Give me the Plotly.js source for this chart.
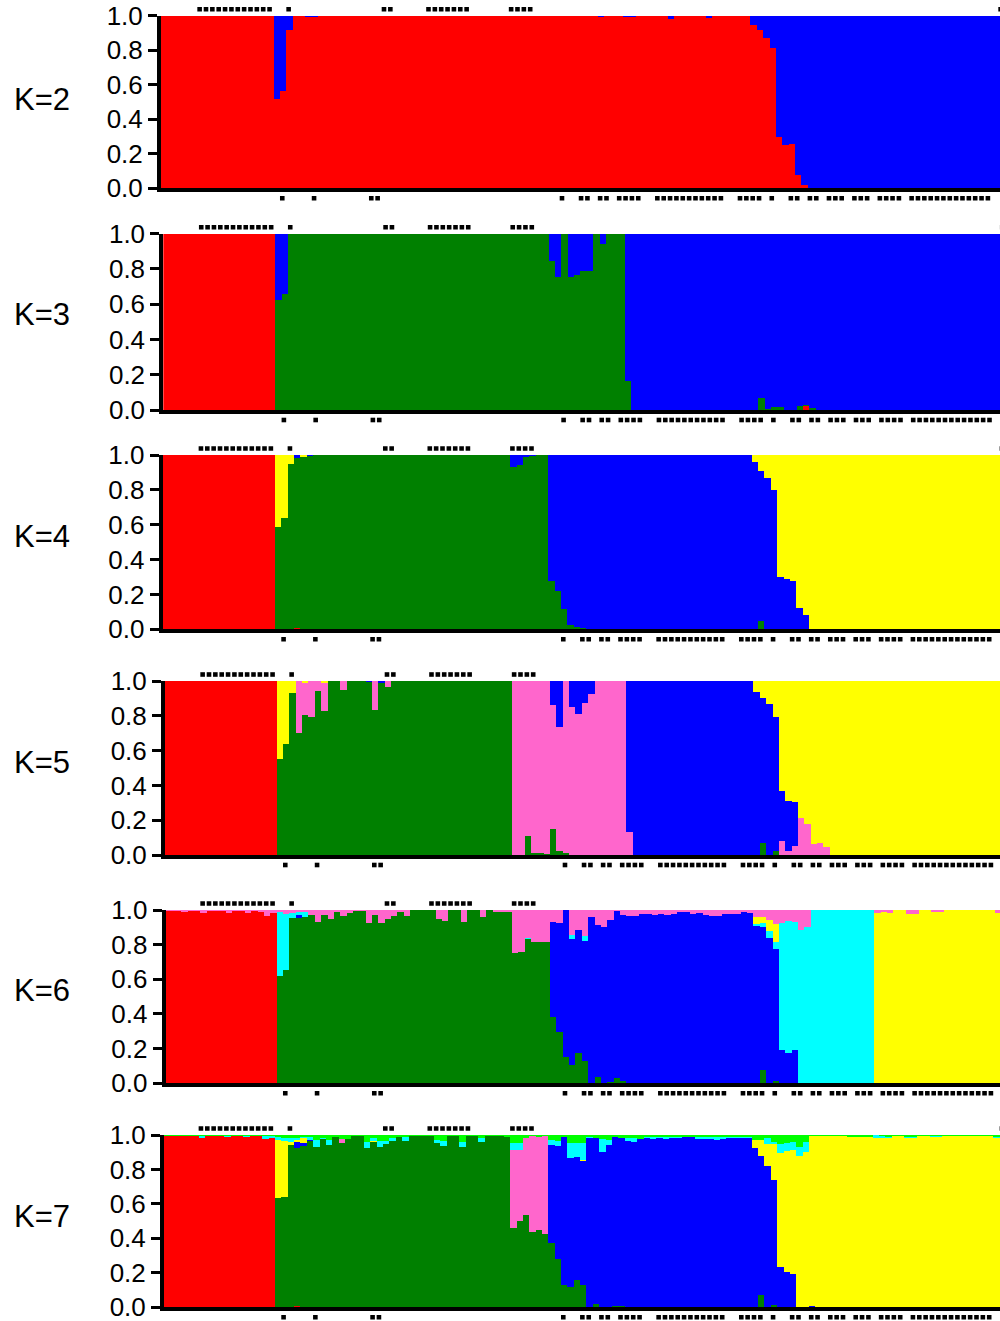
<!DOCTYPE html>
<html><head><meta charset="utf-8">
<script src="https://cdn.plot.ly/plotly-3.0.1.min.js"></script>
<style>html,body{margin:0;padding:0;background:#fff}#chart{width:1000px;height:1321px}</style>
</head><body><div id="chart"></div>
<script>
// individuals 0..132 (visible part of the plot)
const individuals = Array.from({length:133}, (_, i) => i);
const yTickVals = [0, 0.2, 0.4, 0.6, 0.8, 1.0];
const yTickText = ['0.0', '0.2', '0.4', '0.6', '0.8', '1.0'];
const panelLabels = ['K=2', 'K=3', 'K=4', 'K=5', 'K=6', 'K=7'];
const markedTop = [6,7,8,9,10,11,12,13,14,15,16,17,20,35,36,42,43,44,45,46,47,48,55,56,57,58,132];
const markedBottom = [19,24,33,34,63,66,67,69,70,72,73,74,75,78,79,80,81,82,83,84,85,86,87,88,91,92,93,94,96,99,100,102,103,105,106,107,109,110,111,113,114,115,116,118,119,120,121,122,123,124,125,126,127,128,129,130];

// ---- K=2 ----
const k2_red = [
 1,1,1,1,1,1,1,1,1,1,
 1,1,1,1,1,1,1,1,0.516,0.565,
 0.917,1,1,0.995,0.995,1,1,1,1,0.997,
 1,1,1,1,1,1,0.997,1,1,1,
 1,1,1,1,1,1,1,1,1,1,
 1,1,1,1,1,1,1,1,1,1,
 1,1,1,1,1,1,1,1,0.997,0.99,
 1,1,1,0.995,0.995,1,1,1,1,1,
 0.981,1,0.997,1,1,1,0.988,1,1,1,
 1,1,1,0.946,0.917,0.868,0.815,0.299,0.251,0.255,
 0.077,0.019,0,0,0,0,0,0,0,0,
 0,0,0,0,0,0,0,0,0,0,
 0,0,0,0,0,0,0,0,0,0,
 0,0,0];
const k2_blue = [
 0,0,0,0,0,0,0,0,0,0,
 0,0,0,0,0,0,0,0,0.484,0.435,
 0.083,0,0,0.005,0.005,0,0,0,0,0.003,
 0,0,0,0,0,0,0.003,0,0,0,
 0,0,0,0,0,0,0,0,0,0,
 0,0,0,0,0,0,0,0,0,0,
 0,0,0,0,0,0,0,0,0.003,0.01,
 0,0,0,0.005,0.005,0,0,0,0,0,
 0.019,0,0.003,0,0,0,0.012,0,0,0,
 0,0,0,0.054,0.083,0.132,0.185,0.701,0.749,0.745,
 0.923,0.981,1,1,1,1,1,1,1,1,
 1,1,1,1,1,1,1,1,1,1,
 1,1,1,1,1,1,1,1,1,1,
 1,1,1];

// ---- K=3 ----
const k3_red = [
 1,1,1,1,1,1,1,1,1,1,
 1,1,1,1,1,1,1,1,0,0,
 0,0,0,0,0,0,0,0,0,0,
 0,0,0,0,0,0,0,0,0,0,
 0,0,0,0,0,0,0,0,0,0,
 0,0,0,0,0,0,0,0,0,0,
 0,0,0,0,0,0,0,0,0,0,
 0,0,0,0,0,0,0,0,0,0,
 0,0,0,0,0,0,0,0,0,0,
 0,0,0,0,0,0,0,0,0,0,
 0,0.023,0,0,0,0,0,0,0,0,
 0,0,0,0,0,0,0,0,0,0,
 0,0,0,0,0,0,0,0,0,0,
 0,0,0];
const k3_green = [
 0,0,0,0,0,0,0,0,0,0,
 0,0,0,0,0,0,0,0,0.624,0.66,
 1,1,1,1,1,1,1,1,1,1,
 1,1,1,1,1,1,1,1,1,1,
 1,1,1,1,1,1,1,1,1,1,
 1,1,1,1,1,1,1,1,1,1,
 1,0.845,0.756,1,0.756,0.766,0.79,0.79,1,0.94,
 1,1,1,0.166,0,0,0,0,0,0,
 0,0,0,0,0,0,0,0,0,0,
 0,0,0,0,0.07,0.005,0.015,0.015,0,0,
 0.02,0.007,0.01,0,0,0,0,0,0,0,
 0,0,0,0,0,0,0,0,0,0,
 0,0,0,0,0,0,0,0,0,0,
 0,0,0];
const k3_blue = [
 0,0,0,0,0,0,0,0,0,0,
 0,0,0,0,0,0,0,0,0.376,0.34,
 0,0,0,0,0,0,0,0,0,0,
 0,0,0,0,0,0,0,0,0,0,
 0,0,0,0,0,0,0,0,0,0,
 0,0,0,0,0,0,0,0,0,0,
 0,0.155,0.244,0,0.244,0.234,0.21,0.21,0,0.06,
 0,0,0,0.834,1,1,1,1,1,1,
 1,1,1,1,1,1,1,1,1,1,
 1,1,1,1,0.93,0.995,0.985,0.985,1,1,
 0.98,0.97,0.99,1,1,1,1,1,1,1,
 1,1,1,1,1,1,1,1,1,1,
 1,1,1,1,1,1,1,1,1,1,
 1,1,1];

// ---- K=4 ----
const k4_red = [
 1,1,1,1,1,1,1,1,1,1,
 1,1,1,1,1,1,1,1,0,0,
 0,0.005,0,0,0,0,0,0,0,0,
 0,0,0,0,0,0,0,0,0,0,
 0,0,0,0,0,0,0,0,0,0,
 0,0,0,0,0,0,0,0,0,0,
 0,0,0,0,0,0,0,0,0,0,
 0,0,0,0,0,0,0,0,0,0,
 0,0,0,0,0,0,0,0,0,0,
 0,0,0,0,0,0,0,0,0,0,
 0,0,0,0,0,0,0,0,0,0,
 0,0,0,0,0,0,0,0,0,0,
 0,0,0,0,0,0,0,0,0,0,
 0,0,0];
const k4_green = [
 0,0,0,0,0,0,0,0,0,0,
 0,0,0,0,0,0,0,0,0.589,0.637,
 0.948,0.975,0.99,0.995,1,1,1,1,1,1,
 1,1,1,1,1,1,1,1,1,1,
 1,1,1,1,1,1,1,1,1,1,
 1,1,1,1,1,0.933,0.943,0.99,0.995,1,
 1,0.277,0.22,0.115,0.025,0.015,0.01,0,0,0,
 0,0,0,0,0,0,0,0,0,0,
 0,0,0,0,0,0,0,0,0,0,
 0,0,0,0,0.05,0,0,0,0,0,
 0,0,0,0,0,0,0,0,0,0,
 0,0,0,0,0,0,0,0,0,0,
 0,0,0,0,0,0,0,0,0,0,
 0,0,0];
const k4_blue = [
 0,0,0,0,0,0,0,0,0,0,
 0,0,0,0,0,0,0,0,0,0,
 0,0.02,0,0.005,0,0,0,0,0,0,
 0,0,0,0,0,0,0,0,0,0,
 0,0,0,0,0,0,0,0,0,0,
 0,0,0,0,0,0.067,0.057,0.01,0.005,0,
 0,0.723,0.78,0.885,0.975,0.985,0.99,1,1,1,
 1,1,1,1,1,1,1,1,1,1,
 1,1,1,1,1,1,1,1,1,1,
 1,1,1,0.96,0.86,0.87,0.8,0.3,0.29,0.28,
 0.12,0.08,0,0,0,0,0,0,0,0,
 0,0,0,0,0,0,0,0,0,0,
 0,0,0,0,0,0,0,0,0,0,
 0,0,0];
const k4_yellow = [
 0,0,0,0,0,0,0,0,0,0,
 0,0,0,0,0,0,0,0,0.411,0.363,
 0.052,0,0.01,0,0,0,0,0,0,0,
 0,0,0,0,0,0,0,0,0,0,
 0,0,0,0,0,0,0,0,0,0,
 0,0,0,0,0,0,0,0,0,0,
 0,0,0,0,0,0,0,0,0,0,
 0,0,0,0,0,0,0,0,0,0,
 0,0,0,0,0,0,0,0,0,0,
 0,0,0,0.04,0.09,0.13,0.2,0.7,0.71,0.72,
 0.88,0.92,1,1,1,1,1,1,1,1,
 1,1,1,1,1,1,1,1,1,1,
 1,1,1,1,1,1,1,1,1,1,
 1,1,1];

// ---- K=5 ----
const k5_red = [
 1,1,1,1,1,1,1,1,1,1,
 1,1,1,1,1,1,1,1,0,0,
 0,0,0,0,0,0,0,0,0,0,
 0,0,0,0,0,0,0,0,0,0,
 0,0,0,0,0,0,0,0,0,0,
 0,0,0,0,0,0,0,0,0,0,
 0,0,0,0,0,0,0,0,0,0,
 0,0,0,0,0,0,0,0,0,0,
 0,0,0,0,0,0,0,0,0,0,
 0,0,0,0,0,0,0,0,0,0,
 0,0,0,0,0,0,0,0,0,0,
 0,0,0,0,0,0,0,0,0,0,
 0,0,0,0,0,0,0,0,0,0,
 0,0,0];
const k5_green = [
 0,0,0,0,0,0,0,0,0,0,
 0,0,0,0,0,0,0,0,0.552,0.638,
 0.933,0.699,0.804,0.795,0.945,0.829,1,1,0.948,1,
 1,1,0.995,0.833,0.99,0.964,1,1,1,1,
 1,1,1,1,1,1,1,1,1,1,
 1,1,1,1,1,0,0,0.109,0.01,0.01,
 0.005,0.148,0.023,0.01,0,0,0,0,0,0,
 0,0,0,0,0,0,0,0,0,0,
 0,0,0,0,0,0,0,0,0,0,
 0,0,0,0,0.067,0,0.023,0,0,0,
 0,0,0,0,0,0,0,0,0,0,
 0,0,0,0,0,0,0,0,0,0,
 0,0,0,0,0,0,0,0,0,0,
 0,0,0];
const k5_pink = [
 0,0,0,0,0,0,0,0,0,0,
 0,0,0,0,0,0,0,0,0,0,
 0,0.301,0.186,0.205,0.055,0.161,0,0,0.052,0,
 0,0,0,0.167,0,0.036,0,0,0,0,
 0,0,0,0,0,0,0,0,0,0,
 0,0,0,0,0,1,1,0.891,0.99,0.99,
 0.995,0.714,0.715,0.99,0.852,0.81,0.872,0.923,1,1,
 1,1,1,0.13,0,0,0,0,0,0,
 0,0,0,0,0,0,0,0,0,0,
 0,0,0,0,0,0,0,0.08,0.023,0.054,
 0.211,0.176,0.061,0.071,0.048,0,0,0,0,0,
 0,0,0,0,0,0,0,0,0,0,
 0,0,0,0,0,0,0,0,0,0,
 0,0,0];
const k5_blue = [
 0,0,0,0,0,0,0,0,0,0,
 0,0,0,0,0,0,0,0,0,0,
 0,0,0,0,0,0,0,0,0,0,
 0,0,0.005,0,0.01,0,0,0,0,0,
 0,0,0,0,0,0,0,0,0,0,
 0,0,0,0,0,0,0,0,0,0,
 0,0.138,0.262,0,0.148,0.19,0.128,0.077,0,0,
 0,0,0,0.87,1,1,1,1,1,1,
 1,1,1,1,1,1,1,1,1,1,
 1,1,1,0.939,0.837,0.866,0.772,0.29,0.289,0.253,
 0,0,0,0,0,0,0,0,0,0,
 0,0,0,0,0,0,0,0,0,0,
 0,0,0,0,0,0,0,0,0,0,
 0,0,0];
const k5_yellow = [
 0,0,0,0,0,0,0,0,0,0,
 0,0,0,0,0,0,0,0,0.448,0.362,
 0.067,0,0.01,0,0,0.01,0,0,0,0,
 0,0,0,0,0,0,0,0,0,0,
 0,0,0,0,0,0,0,0,0,0,
 0,0,0,0,0,0,0,0,0,0,
 0,0,0,0,0,0,0,0,0,0,
 0,0,0,0,0,0,0,0,0,0,
 0,0,0,0,0,0,0,0,0,0,
 0,0,0,0.061,0.096,0.134,0.205,0.63,0.688,0.693,
 0.789,0.824,0.939,0.929,0.952,1,1,1,1,1,
 1,1,1,1,1,1,1,1,1,1,
 1,1,1,1,1,1,1,1,1,1,
 1,1,1];

// ---- K=6 ----
const k6_red = [
 0.995,0.995,0.995,0.99,0.995,0.995,0.98,0.995,0.995,0.995,
 0.98,0.995,0.995,0.98,0.995,0.99,0.967,0.98,0,0,
 0,0,0,0,0,0,0,0,0,0,
 0,0,0,0,0,0,0,0,0,0,
 0,0,0,0,0,0,0,0,0,0,
 0,0,0,0,0,0,0,0,0,0,
 0,0,0,0,0,0,0,0,0,0,
 0,0,0,0,0,0,0,0,0,0,
 0,0,0,0,0,0,0,0,0,0,
 0,0,0,0,0,0,0,0,0,0,
 0,0,0,0,0,0,0,0,0,0,
 0,0,0,0,0,0,0,0,0,0,
 0,0,0,0,0,0,0,0,0,0,
 0,0,0];
const k6_green = [
 0,0,0,0,0,0,0,0,0,0,
 0,0,0,0,0,0,0,0,0.619,0.654,
 0.954,0.956,0.962,0.971,0.933,0.971,0.946,0.987,0.967,0.981,
 0.996,0.996,0.923,0.971,0.927,0.946,0.965,0.987,0.967,0.998,
 0.998,0.998,0.998,0.948,0.936,0.998,0.998,0.929,0.998,0.998,
 0.958,0.998,0.99,0.987,0.99,0.75,0.759,0.831,0.817,0.813,
 0.817,0.381,0.298,0.154,0.106,0.173,0.129,0,0.035,0,
 0.01,0.03,0.015,0,0,0,0,0,0,0,
 0,0,0,0,0,0,0,0,0,0,
 0,0,0,0,0.077,0,0.015,0,0,0,
 0,0,0,0,0,0,0,0,0,0,
 0,0,0,0,0,0,0,0,0,0,
 0,0,0,0,0,0,0,0,0,0,
 0,0,0];
const k6_blue = [
 0,0,0,0,0,0,0,0,0,0,
 0,0,0,0,0,0,0,0,0,0,
 0,0.013,0,0,0,0,0,0,0,0,
 0,0,0,0,0,0,0,0,0,0,
 0,0,0,0,0,0,0,0,0,0,
 0,0,0,0,0,0,0,0,0,0,
 0,0.552,0.625,0.846,0.725,0.712,0.692,0.962,0.88,0.9,
 0.932,0.965,0.955,0.965,0.965,0.977,0.977,0.969,0.977,0.969,
 0.975,0.987,0.987,0.977,0.981,0.971,0.965,0.965,0.975,0.975,
 0.977,0.987,0.981,0.91,0.827,0.837,0.76,0.19,0.177,0.19,
 0,0,0,0,0,0,0,0,0,0,
 0,0,0,0,0,0,0,0,0,0,
 0,0,0,0,0,0,0,0,0,0,
 0,0,0];
const k6_cyan = [
 0,0,0,0,0,0,0,0,0,0,
 0,0,0,0,0,0,0,0,0.371,0.323,
 0.029,0.019,0.027,0,0,0,0,0,0,0,
 0,0,0,0,0,0,0,0,0,0,
 0,0,0,0,0,0,0,0,0,0,
 0,0,0,0,0,0,0,0.01,0,0,
 0,0,0,0,0.025,0,0.029,0,0,0,
 0,0,0,0,0,0,0,0,0,0,
 0,0,0,0,0,0,0,0,0,0,
 0,0,0,0.01,0.02,0.044,0.038,0.733,0.761,0.743,
 0.885,0.9,1,1,1,1,1,1,1,1,
 1,1,0,0,0,0,0,0,0,0,
 0,0,0,0,0,0,0,0,0,0,
 0,0,0];
const k6_yellow = [
 0,0,0,0,0,0,0,0,0,0,
 0,0,0,0,0,0,0,0,0,0,
 0,0,0,0,0,0,0,0,0,0,
 0,0,0,0,0,0,0,0,0,0,
 0,0,0,0,0,0,0,0,0,0,
 0,0,0,0,0,0,0,0,0,0,
 0,0,0,0,0,0,0,0,0,0,
 0,0,0,0,0,0,0,0,0,0,
 0,0,0,0,0,0,0,0,0,0,
 0,0,0,0.04,0.038,0.061,0.106,0,0,0,
 0,0,0,0,0,0,0,0,0,0,
 0,0,0.985,0.99,0.981,1,1,0.977,0.977,1,
 1,0.99,0.99,1,1,1,1,1,1,1,
 1,0.981,1];
const k6_pink = [
 0.005,0.005,0.005,0.01,0.005,0.005,0.02,0.005,0.005,0.005,
 0.02,0.005,0.005,0.02,0.005,0.01,0.033,0.02,0.01,0.023,
 0.017,0.012,0.011,0.029,0.067,0.029,0.054,0.013,0.033,0.019,
 0.004,0.004,0.077,0.029,0.073,0.054,0.035,0.013,0.033,0.002,
 0.002,0.002,0.002,0.052,0.064,0.002,0.002,0.071,0.002,0.002,
 0.042,0.002,0.01,0.013,0.01,0.25,0.241,0.159,0.183,0.187,
 0.183,0.067,0.077,0,0.144,0.115,0.15,0.038,0.085,0.1,
 0.058,0.005,0.03,0.035,0.035,0.023,0.023,0.031,0.023,0.031,
 0.025,0.013,0.013,0.023,0.019,0.029,0.035,0.035,0.025,0.025,
 0.023,0.013,0.019,0.04,0.038,0.058,0.081,0.077,0.062,0.067,
 0.115,0.1,0,0,0,0,0,0,0,0,
 0,0,0.015,0.01,0.019,0,0,0.023,0.023,0,
 0,0.01,0.01,0,0,0,0,0,0,0,
 0,0.019,0];

// ---- K=7 ----
const k7_red = [
 0.995,0.995,0.995,0.995,0.995,0.995,0.985,0.995,0.995,0.995,
 0.99,0.995,0.995,0.99,0.995,0.995,0.975,0.985,0,0,
 0,0.006,0,0,0,0,0,0,0,0,
 0,0,0,0,0,0,0,0,0,0,
 0,0,0,0,0,0,0,0,0,0,
 0,0,0,0,0,0,0,0,0,0,
 0,0,0,0,0,0,0,0,0,0,
 0,0,0,0,0,0,0,0,0,0,
 0,0,0,0,0,0,0,0,0,0,
 0,0,0,0,0,0,0,0,0,0,
 0,0,0,0,0,0,0,0,0,0,
 0,0,0,0,0,0,0,0,0,0,
 0,0,0,0,0,0,0,0,0,0,
 0,0,0];
const k7_green = [
 0,0,0,0,0,0,0,0,0,0,
 0,0,0,0,0,0,0,0,0.633,0.639,
 0.94,0.92,0.936,0.967,0.932,0.975,0.942,0.986,0.955,0.975,
 0.995,0.995,0.923,0.961,0.928,0.948,0.967,0.986,0.967,0.995,
 0.995,0.995,0.995,0.952,0.938,0.995,0.995,0.928,0.995,0.995,
 0.957,0.995,0.995,0.995,0.99,0.458,0.5,0.535,0.438,0.451,
 0.428,0.376,0.278,0.129,0.116,0.158,0.129,0.004,0.017,0,
 0,0.01,0.01,0,0,0,0,0,0,0,
 0,0,0,0,0,0,0,0,0,0,
 0,0,0,0,0.07,0,0.015,0,0,0,
 0,0,0,0,0,0,0,0,0,0,
 0,0,0,0,0,0,0,0,0,0,
 0,0,0,0,0,0,0,0,0,0,
 0,0,0];
const k7_pink = [
 0,0,0,0,0,0,0,0,0,0,
 0,0,0,0,0,0,0,0,0,0,
 0,0,0,0,0,0,0,0,0.02,0,
 0,0,0,0,0,0,0,0,0,0,
 0,0,0,0,0,0,0,0,0,0,
 0,0,0,0,0,0.455,0.413,0.45,0.555,0.54,
 0.565,0,0,0,0,0,0,0,0,0,
 0,0,0,0,0,0,0,0,0,0,
 0,0,0,0,0,0,0,0,0,0,
 0,0,0,0,0,0,0,0,0,0,
 0,0,0,0,0,0,0,0,0,0,
 0,0,0,0,0,0,0,0,0,0,
 0,0,0,0,0,0,0,0,0,0,
 0,0,0];
const k7_blue = [
 0,0,0,0,0,0,0,0,0,0,
 0,0,0,0,0,0,0,0,0,0,
 0,0.033,0.016,0.005,0,0,0,0,0,0,
 0,0,0,0,0,0,0,0,0,0,
 0,0,0,0,0,0,0,0,0,0,
 0,0,0,0,0,0,0,0,0,0,
 0,0.565,0.658,0.861,0.75,0.716,0.723,0.977,0.963,0.9,
 0.942,0.98,0.97,0.967,0.961,0.975,0.98,0.975,0.98,0.975,
 0.98,0.985,0.99,0.99,0.975,0.975,0.975,0.97,0.975,0.98,
 0.98,0.985,0.985,0.927,0.811,0.82,0.725,0.236,0.207,0.193,
 0,0,0.008,0,0,0,0,0,0,0,
 0,0,0,0,0,0,0,0,0,0,
 0,0,0,0,0,0,0,0,0,0,
 0,0,0];
const k7_yellow = [
 0,0,0,0,0,0,0,0,0,0,
 0,0,0,0,0,0,0,0,0.339,0.329,
 0.02,0.011,0.028,0,0,0,0,0,0,0,
 0,0,0,0.005,0,0,0,0,0,0,
 0,0,0,0,0,0,0,0,0,0,
 0,0,0,0,0,0,0,0,0,0,
 0,0,0,0,0,0,0.004,0,0,0,
 0,0,0,0,0,0,0,0,0,0,
 0,0,0,0,0,0,0,0,0,0,
 0,0,0,0.043,0.09,0.13,0.21,0.66,0.70,0.72,
 0.879,0.904,0.986,0.995,0.995,0.995,0.995,0.995,0.99,0.99,
 0.99,0.99,0.98,0.985,0.98,0.995,0.995,0.98,0.98,0.995,
 0.995,0.99,0.99,0.995,0.995,0.995,0.995,0.995,0.995,0.995,
 0.995,0.98,0.995];
const k7_cyan = [
 0,0,0,0,0,0,0.01,0,0,0,
 0.005,0,0,0.005,0,0,0.02,0.01,0.014,0.016,
 0.02,0.015,0.01,0.014,0.04,0.01,0.03,0,0,0,
 0,0,0.039,0.017,0.04,0.02,0.015,0,0.02,0,
 0,0,0,0.02,0.03,0,0,0.033,0,0,
 0.023,0,0,0,0,0.043,0.039,0,0,0,
 0,0.029,0.031,0,0.087,0.077,0.1,0.01,0,0.077,
 0.029,0,0,0.013,0.019,0,0.01,0.015,0.01,0.015,
 0.01,0.005,0,0,0.015,0.015,0.015,0.02,0.015,0.01,
 0.01,0.005,0.005,0,0,0.033,0.012,0.054,0.048,0.045,
 0.054,0.058,0,0,0,0,0,0,0,0,
 0,0,0.02,0.01,0.01,0,0,0.01,0.01,0,
 0,0.005,0.005,0,0,0,0,0,0,0,
 0,0.01,0];
const k7_lime = [
 0.005,0.005,0.005,0.005,0.005,0.005,0.005,0.005,0.005,0.005,
 0.005,0.005,0.005,0.005,0.005,0.005,0.005,0.005,0.014,0.016,
 0.02,0.015,0.01,0.014,0.028,0.015,0.028,0.014,0.025,0.025,
 0.005,0.005,0.038,0.017,0.032,0.032,0.018,0.014,0.013,0.005,
 0.005,0.005,0.005,0.028,0.032,0.005,0.005,0.039,0.005,0.005,
 0.02,0.005,0.005,0.005,0.01,0.044,0.048,0.015,0.007,0.009,
 0.007,0.03,0.033,0.01,0.047,0.049,0.044,0.009,0.02,0.023,
 0.029,0.01,0.02,0.02,0.02,0.025,0.01,0.01,0.01,0.01,
 0.01,0.01,0.01,0.01,0.01,0.01,0.01,0.01,0.01,0.01,
 0.01,0.01,0.01,0.03,0.029,0.017,0.038,0.05,0.045,0.042,
 0.067,0.038,0.006,0.005,0.005,0.005,0.005,0.005,0.01,0.01,
 0.01,0.01,0,0.005,0.01,0.005,0.005,0.01,0.01,0.005,
 0.005,0.005,0.005,0.005,0.005,0.005,0.005,0.005,0.005,0.005,
 0.005,0.01,0.005];

// ---- colours ----
const RED = '#FF0000', GREEN = '#008000', BLUE = '#0000FF', YELLOW = '#FFFF00',
      PINK = '#FF66CC', CYAN = '#00FFFF', LIME = '#00FF00';

// panel geometry (pixels) and the stacking order of clusters (bottom -> top)
const W = 1000, H = 1321, PITCH = 6.357;
const panels = [
  {top:15.7,  bot:188.3,  left:161,   bar18:273.7, labelY:100,
   series:[[k2_red,RED],[k2_blue,BLUE]]},
  {top:233.7, bot:410,    left:163.3, bar18:275.3, labelY:315,
   series:[[k3_red,RED],[k3_green,GREEN],[k3_blue,BLUE]]},
  {top:455,   bot:629.3,  left:162.7, bar18:275,   labelY:536,
   series:[[k4_red,RED],[k4_green,GREEN],[k4_blue,BLUE],[k4_yellow,YELLOW]]},
  {top:681,   bot:855,    left:165,   bar18:276.7, labelY:762,
   series:[[k5_red,RED],[k5_green,GREEN],[k5_pink,PINK],[k5_blue,BLUE],[k5_yellow,YELLOW]]},
  {top:910,   bot:1083.3, left:165.7, bar18:276.7, labelY:991,
   series:[[k6_red,RED],[k6_green,GREEN],[k6_blue,BLUE],[k6_cyan,CYAN],[k6_yellow,YELLOW],[k6_pink,PINK]]},
  {top:1135,  bot:1307.3, left:164,   bar18:275,   labelY:1216,
   series:[[k7_red,RED],[k7_green,GREEN],[k7_pink,PINK],[k7_blue,BLUE],[k7_yellow,YELLOW],[k7_cyan,CYAN],[k7_lime,LIME]]}
];

const traces = [];
const layout = {
  width: W, height: H, margin: {l:0, r:0, t:0, b:0},
  paper_bgcolor: '#fff', plot_bgcolor: 'rgba(0,0,0,0)',
  barmode: 'stack', bargap: 0, showlegend: false, annotations: []
};

const MARK_ABOVE = 12, MARK_BELOW = 13;   // extra pixels of the marker strip subplots
panels.forEach((pn, idx) => {
  const n = idx + 1, sfx = n === 1 ? '' : String(n);
  const m = n + 6;                          // marker subplot id
  const xa = 'x' + sfx, ya = 'y' + sfx, xm = 'x' + m, ym = 'y' + m;
  const h = pn.bot - pn.top;
  const xr = [(pn.left - pn.bar18) / PITCH + 17.5, (W - pn.bar18) / PITCH + 17.5];
  pn.series.forEach(([vals, color]) => {
    traces.push({type:'bar', x: individuals, y: vals, xaxis: xa, yaxis: ya, width: 1,
      marker: {color: color, line: {width: 0}}, hoverinfo: 'skip'});
  });
  traces.push({type:'scatter', mode:'markers', xaxis: xm, yaxis: ym,
    x: markedTop.map(i => i - 0.15), y: markedTop.map(() => 1 + 6.5 / h),
    marker: {symbol:'square', size: 4.6, color:'#000', line:{width:0}}, hoverinfo:'skip'});
  traces.push({type:'scatter', mode:'markers', xaxis: xm, yaxis: ym,
    x: markedBottom.map(i => i - 0.15), y: markedBottom.map(() => -10 / h),
    marker: {symbol:'square', size: 4.6, color:'#000', line:{width:0}}, hoverinfo:'skip'});

  layout['xaxis' + sfx] = {
    domain: [pn.left / W, 1], range: xr,
    anchor: ya, showline: true, linewidth: 3.5, linecolor: '#000',
    showticklabels: false, ticks: '', showgrid: false, zeroline: false, fixedrange: true
  };
  layout['yaxis' + sfx] = {
    domain: [1 - pn.bot / H, 1 - pn.top / H], range: [0, 1], anchor: xa,
    showline: true, linewidth: 4, linecolor: '#000',
    ticks: 'outside', ticklen: 9, tickwidth: 3, tickcolor: '#000',
    tickvals: yTickVals, ticktext: yTickText, ticklabeloverflow: 'allow',
    tickfont: {family: 'Liberation Sans, Arial, sans-serif', size: 26, color: '#000'},
    showgrid: false, zeroline: false, fixedrange: true
  };
  // invisible strip subplot that holds the sample markers above and below the panel
  layout['xaxis' + m] = {domain: [pn.left / W, 1], range: xr, anchor: ym, visible: false, fixedrange: true};
  layout['yaxis' + m] = {
    domain: [1 - (pn.bot + MARK_BELOW) / H, 1 - (pn.top - MARK_ABOVE) / H],
    range: [-MARK_BELOW / h, 1 + MARK_ABOVE / h], anchor: xm, visible: false, fixedrange: true
  };
  layout.annotations.push({
    text: panelLabels[idx], xref: 'paper', yref: 'paper',
    x: 41.5 / W, y: 1 - pn.labelY / H, xanchor: 'center', yanchor: 'middle',
    showarrow: false, font: {family: 'Liberation Sans, Arial, sans-serif', size: 31, color: '#000'}
  });
});

Plotly.newPlot('chart', traces, layout, {staticPlot: true, displayModeBar: false});
</script>
</body></html>
